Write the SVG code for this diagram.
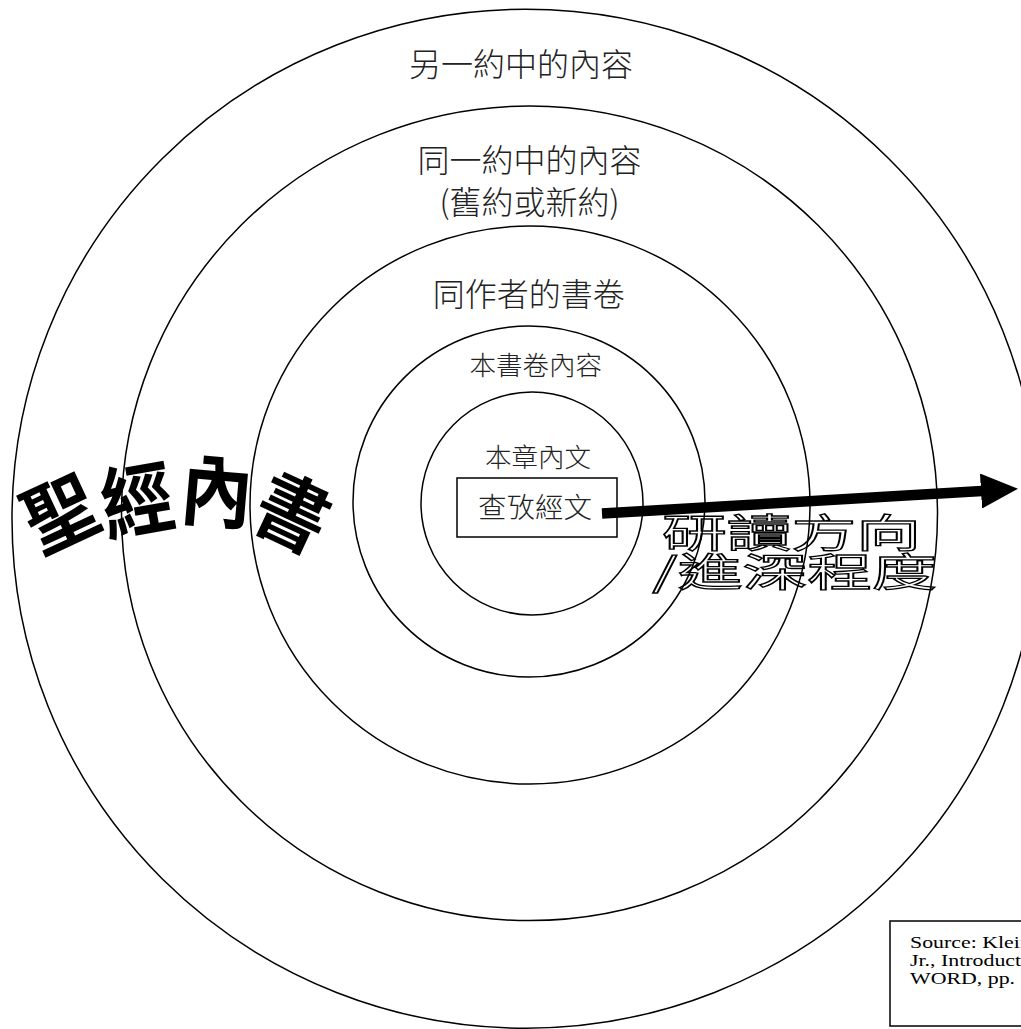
<svg xmlns="http://www.w3.org/2000/svg" width="1021" height="1029" viewBox="0 0 1021 1029">
<style>
.ring{fill:none;stroke:#000;stroke-width:1.5}
.lbl{font-family:"Noto Sans CJK TC","Noto Sans CJK SC",sans-serif;font-weight:300;fill:#222;text-anchor:middle}
.big{font-family:"Noto Sans CJK TC","Noto Sans CJK SC",sans-serif;font-weight:bold;font-size:72px;fill:#000;text-anchor:middle}
.outl{font-family:"Noto Sans CJK TC","Noto Sans CJK SC",sans-serif;font-size:37px;fill:none;stroke:#000;stroke-width:1.2;text-anchor:middle}
.src{font-family:"Liberation Serif","Times New Roman",serif;font-size:17.5px;fill:#000}
</style>
<defs>
<marker id="head" markerUnits="userSpaceOnUse" viewBox="0 0 37 35" refX="1" refY="17.5" markerWidth="37" markerHeight="35" orient="auto">
<path d="M0,0 L37,17.5 L0,35 Z" fill="#000"/>
</marker>
</defs>
<rect width="1021" height="1029" fill="#fff"/>
<g id="ring-other-testament">
<ellipse class="ring" cx="525.5" cy="518.7" rx="513.5" ry="509.5"/>
<text class="lbl" x="521" y="76" font-size="32">另一約中的內容</text>
</g>
<g id="ring-same-testament">
<ellipse class="ring" cx="529.5" cy="513.3" rx="408" ry="407.3"/>
<text class="lbl" x="529.5" y="172" font-size="32">同一約中的內容</text>
<text class="lbl" x="529.5" y="213.5" font-size="32">(舊約或新約)</text>
</g>
<g id="ring-same-author">
<ellipse class="ring" cx="530" cy="505" rx="280" ry="279"/>
<text class="lbl" x="528.7" y="306" font-size="32">同作者的書卷</text>
</g>
<g id="ring-this-book">
<ellipse class="ring" cx="529" cy="501.5" rx="176" ry="175.5"/>
<text class="lbl" x="535.7" y="375" font-size="26.5">本書卷內容</text>
</g>
<g id="ring-this-chapter">
<ellipse class="ring" cx="532" cy="503.5" rx="111" ry="111.5"/>
<text class="lbl" x="538" y="466.5" font-size="26.5">本章內文</text>
</g>
<g id="box-passage">
<rect x="457" y="478" width="160" height="59" fill="#fff" stroke="#000" stroke-width="1.5"/>
<text class="lbl" x="535" y="517.5" font-size="28.5">查攷經文</text>
</g>
<g id="title-wordart">
<text class="big" transform="translate(60,513) rotate(-25) scale(1,1.1)" y="27">聖</text>
<text class="big" transform="translate(137,500) rotate(-10) scale(1,1.1)" y="27">經</text>
<text class="big" transform="translate(217,491) rotate(5) scale(1,1.1)" y="27">內</text>
<text class="big" transform="translate(293,512) rotate(25) scale(1,1.1)" y="27">書</text>
</g>
<g id="direction-label">
<text class="outl" transform="translate(791.5,547) scale(1.75,1.05)">研讀方向</text>
<text class="outl" transform="translate(794.5,586) scale(1.75,1.05)">/進深程度</text>
</g>
<g id="connectors">
<line x1="602" y1="513.5" x2="982" y2="491" stroke="#000" stroke-width="10.5" marker-end="url(#head)"/>
</g>
<g id="source-note">
<rect x="890" y="921" width="160" height="105" fill="#fff" stroke="#000" stroke-width="1.5"/>
<g transform="translate(910,0) scale(1.25,1)">
<text class="src" x="0" y="948">Source: Klein</text>
<text class="src" x="0" y="966">Jr., Introduction</text>
<text class="src" x="0" y="984">WORD, pp. 1</text>
</g>
</g>
</svg>
